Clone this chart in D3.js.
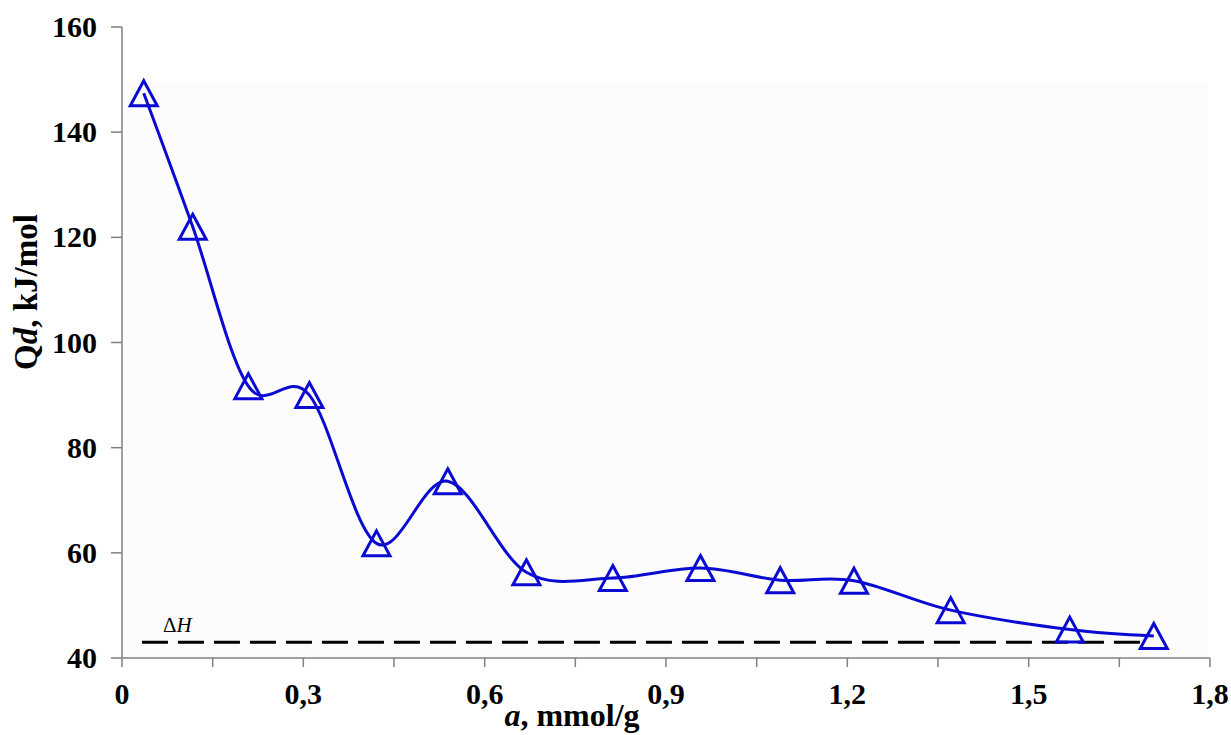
<!DOCTYPE html>
<html>
<head>
<meta charset="utf-8">
<script src="https://cdn.jsdelivr.net/npm/d3@7"></script>
<style>
  html, body { margin: 0; padding: 0; background: #fff; }
  text { font-family: "Liberation Serif", "Times New Roman", serif; }
</style>
</head>
<body>
<div id="root"></div>
<script>
// measured points (a, mmol/g -> Qd, kJ/mol)
const aValues = [0.036, 0.117, 0.209, 0.310, 0.421, 0.539, 0.669, 0.812, 0.957, 1.089, 1.211, 1.371, 1.568, 1.707];
const qdValues = [147.4, 122.0, 91.7, 90.0, 61.8, 73.6, 56.3, 55.2, 57.1, 54.8, 54.7, 49.1, 45.4, 44.2];
const deltaH = 43;
const deltaHRange = [0.033, 1.696];
const xTicks = [0, 0.15, 0.3, 0.45, 0.6, 0.75, 0.9, 1.05, 1.2, 1.35, 1.5, 1.65, 1.8];
const xLabels = [0, 0.3, 0.6, 0.9, 1.2, 1.5, 1.8];
const yTicks = [40, 60, 80, 100, 120, 140, 160];

document.addEventListener("DOMContentLoaded", () => {
    const width = 1231, height = 735;
    const svg = d3.select("#root").append("svg")
        .attr("width", width)
        .attr("height", height);

    const x = d3.scaleLinear().domain([0, 1.8]).range([122, 1210]);
    const y = d3.scaleLinear().domain([40, 160]).range([658, 27]);

    // faint plot background
    svg.append("rect")
        .attr("x", x(0) + 3).attr("y", 82)
        .attr("width", x(1.8) - x(0) - 6).attr("height", y(40) - 82)
        .attr("fill", "#fcfcfc");

    // axes
    const axisColor = "#808080";
    svg.append("line")
        .attr("x1", x(0)).attr("x2", x(1.8))
        .attr("y1", y(40)).attr("y2", y(40))
        .attr("stroke", axisColor).attr("stroke-width", 1.5);
    svg.append("line")
        .attr("x1", x(0)).attr("x2", x(0))
        .attr("y1", y(40)).attr("y2", y(160))
        .attr("stroke", axisColor).attr("stroke-width", 1.5);

    svg.selectAll(".xtick").data(xTicks).enter().append("line")
        .attr("x1", d => x(d)).attr("x2", d => x(d))
        .attr("y1", y(40)).attr("y2", y(40) + 9)
        .attr("stroke", axisColor).attr("stroke-width", 1.5);

    svg.selectAll(".xlab").data(xLabels).enter().append("text")
        .attr("x", d => x(d)).attr("y", 704)
        .attr("text-anchor", "middle")
        .style("font-size", "30px").style("font-weight", "bold")
        .text(d => d === 0 ? "0" : d3.format(".1f")(d).replace(".", ","));

    svg.selectAll(".ytick").data(yTicks).enter().append("line")
        .attr("x1", x(0) - 11).attr("x2", x(0))
        .attr("y1", d => y(d)).attr("y2", d => y(d))
        .attr("stroke", axisColor).attr("stroke-width", 1.5);

    svg.selectAll(".ylab").data(yTicks).enter().append("text")
        .attr("x", 97).attr("y", d => y(d) + 10)
        .attr("text-anchor", "end")
        .style("font-size", "30px").style("font-weight", "bold")
        .text(d => d);

    // axis titles
    const xt = svg.append("text")
        .attr("x", 572).attr("y", 726)
        .attr("text-anchor", "middle")
        .style("font-size", "32px").style("font-weight", "bold");
    xt.append("tspan").style("font-style", "italic").text("a");
    xt.append("tspan").text(", mmol/g");

    const yt = svg.append("text")
        .attr("transform", "translate(37,292) rotate(-90)")
        .attr("text-anchor", "middle")
        .style("font-size", "33px").style("font-weight", "bold");
    yt.append("tspan").text("Q");
    yt.append("tspan").style("font-style", "italic").text("d");
    yt.append("tspan").text(", kJ/mol");

    // ΔH reference line
    svg.append("line")
        .attr("x1", x(deltaHRange[0])).attr("x2", x(deltaHRange[1]))
        .attr("y1", y(deltaH)).attr("y2", y(deltaH))
        .attr("stroke", "#000").attr("stroke-width", 3)
        .attr("stroke-dasharray", "26,10");

    const dh = svg.append("text")
        .attr("x", 163).attr("y", 632)
        .style("font-size", "21px");
    dh.append("tspan").text("Δ");
    dh.append("tspan").style("font-style", "italic").text("H");

    // smoothed curve
    const pts = aValues.map((a, i) => [a, qdValues[i]]);
    const line = d3.line()
        .x(d => x(d[0])).y(d => y(d[1]))
        .curve(d3.curveCardinal.tension(0));
    svg.append("path")
        .datum(pts)
        .attr("d", line)
        .attr("fill", "none")
        .attr("stroke", "#0a0ad2")
        .attr("stroke-width", 3);

    // triangle markers
    const tri = "M0,-12.5L13.5,12.5L-13.5,12.5Z";
    svg.selectAll(".pt").data(pts).enter().append("path")
        .attr("d", tri)
        .attr("transform", d => `translate(${x(d[0])},${y(d[1])})`)
        .attr("fill", "none")
        .attr("stroke", "#0a0ad2")
        .attr("stroke-width", 3);
});
</script>
</body>
</html>
